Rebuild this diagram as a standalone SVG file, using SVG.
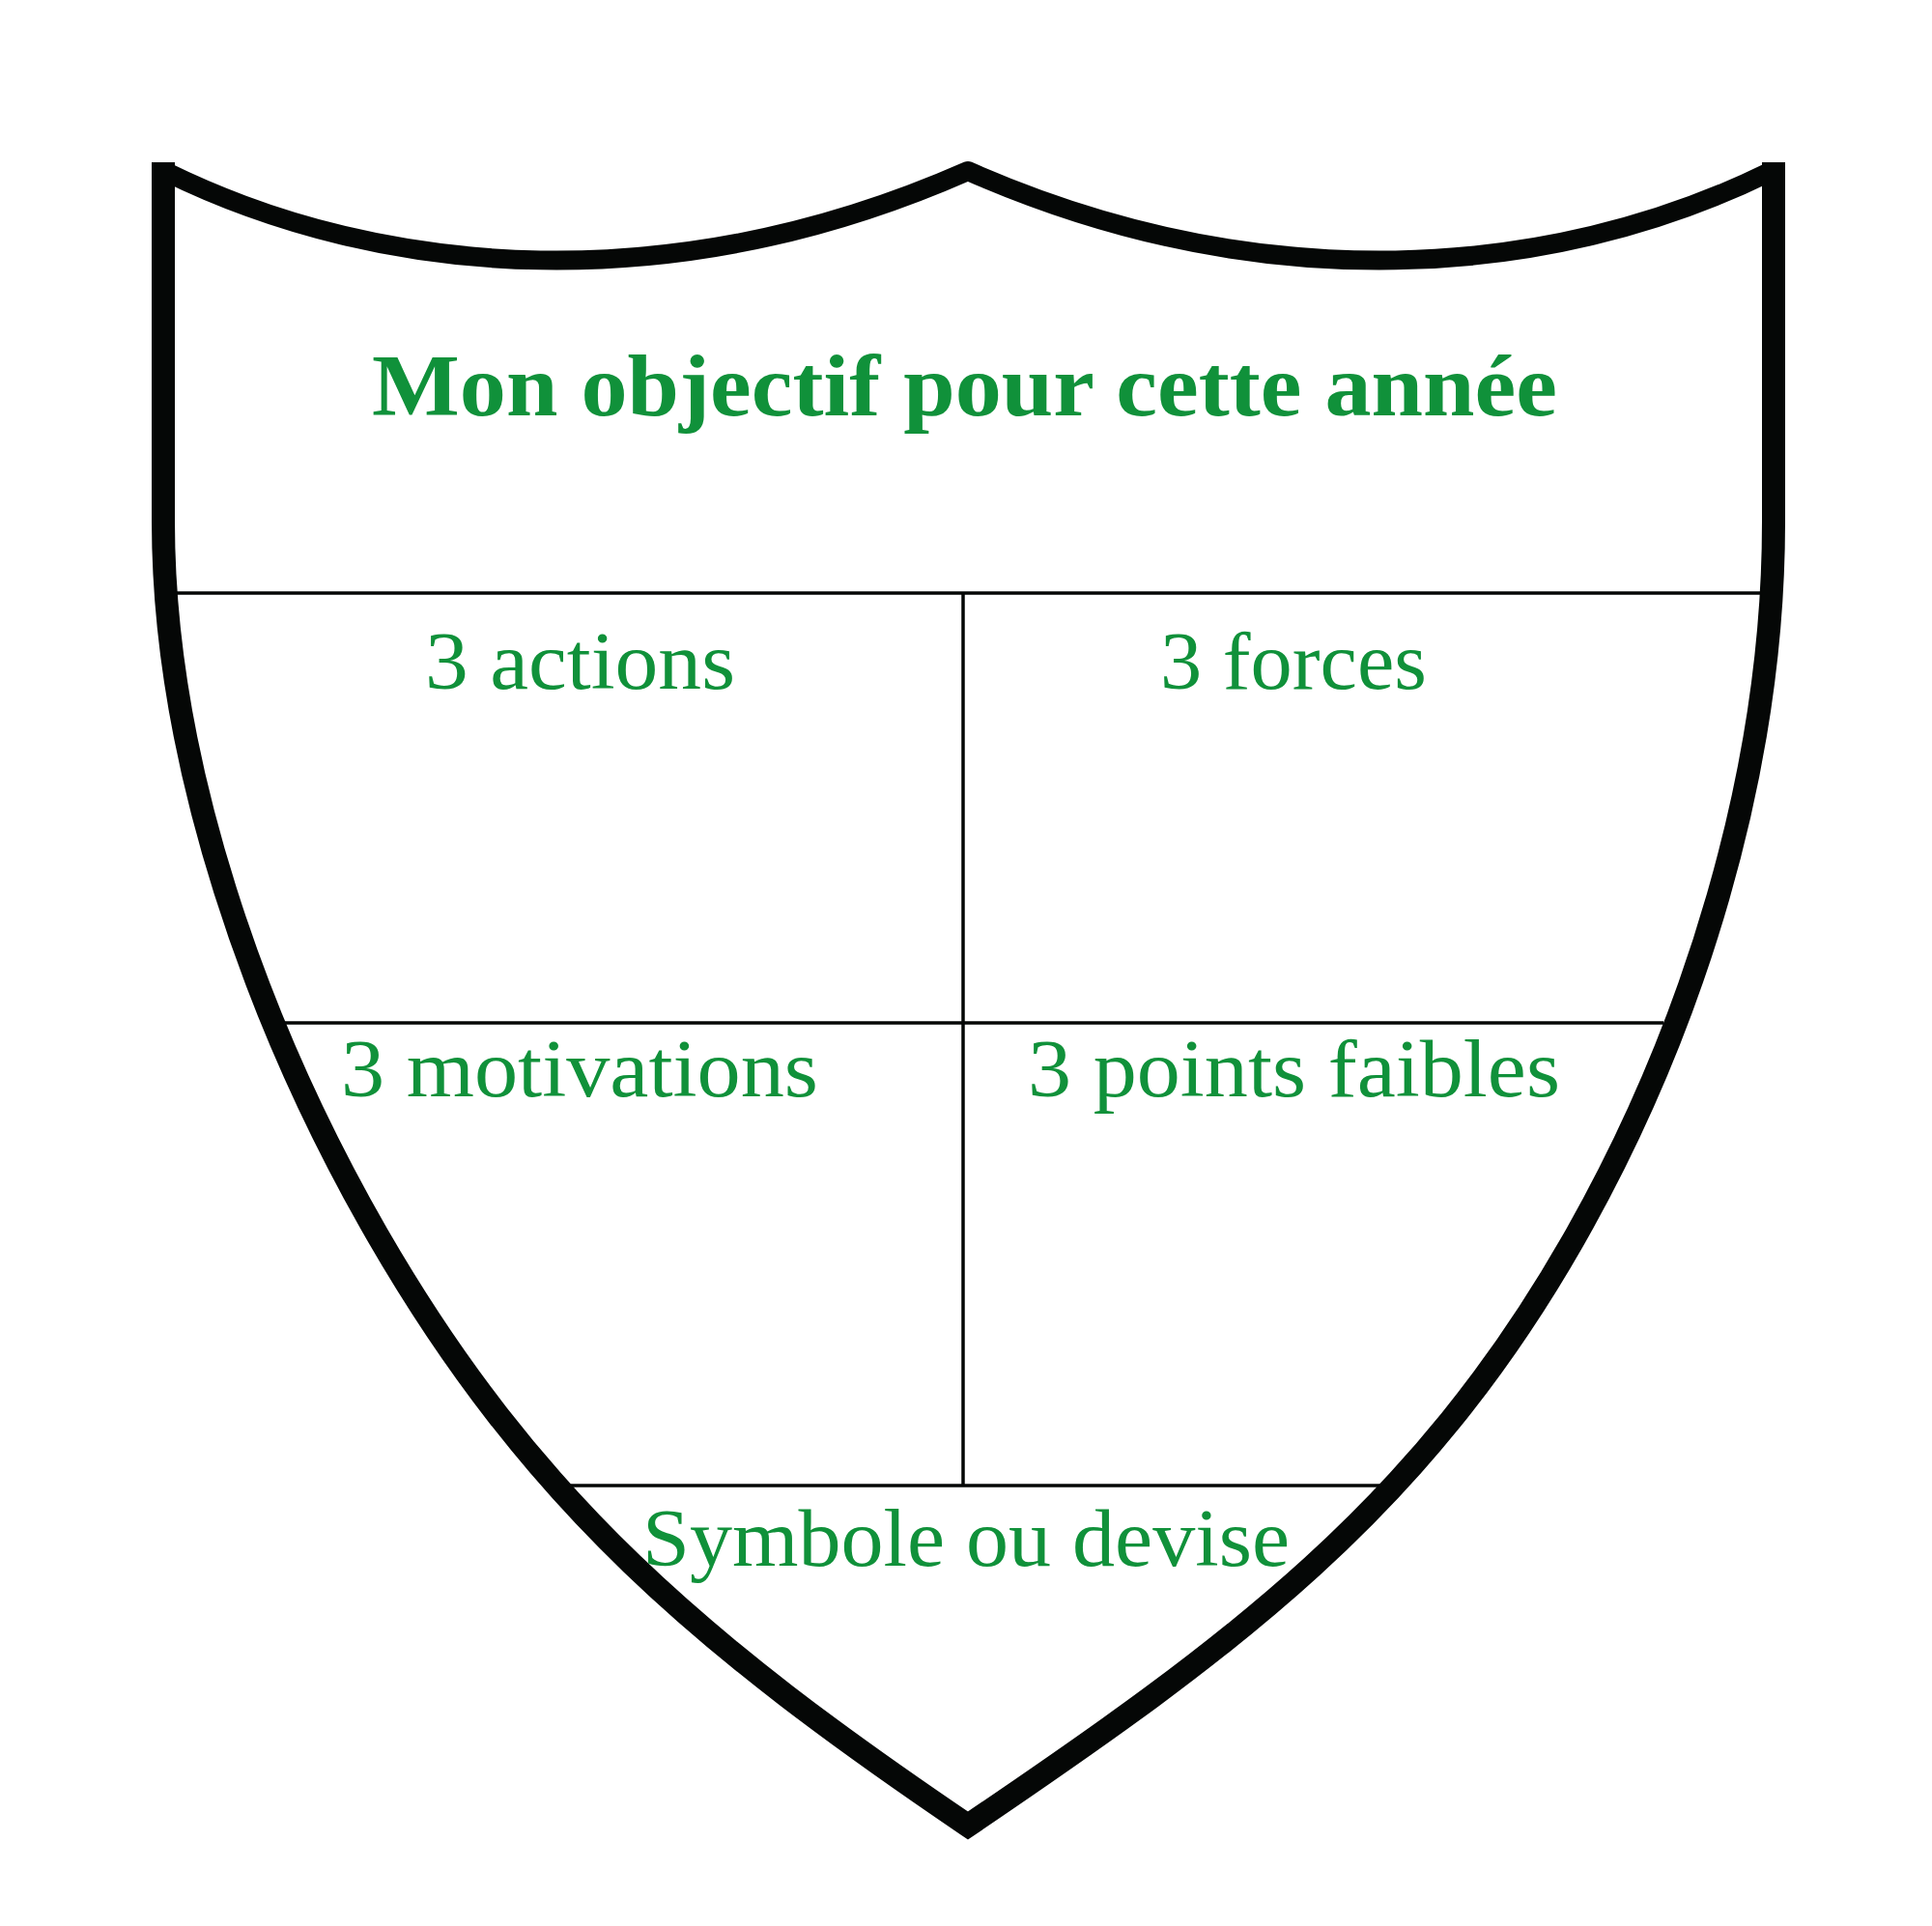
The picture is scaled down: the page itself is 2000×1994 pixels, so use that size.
<svg xmlns="http://www.w3.org/2000/svg" width="2000" height="1994" viewBox="0 0 2000 1994">
  <style>
    .outline { fill: none; stroke: #050706; }
    .divider { fill: none; stroke: #050706; stroke-width: 3.5; stroke-linecap: butt; }
    .lbl { font-family: "Liberation Serif", "Times New Roman", serif; fill: #10913A; font-size: 85px; }
    .title { font-family: "Liberation Serif", "Times New Roman", serif; fill: #10913A; font-size: 90px; font-weight: bold; }
  </style>
  <rect x="0" y="0" width="2000" height="1994" fill="#ffffff"/>

  <g id="connectors">
    <line class="divider" x1="175" y1="614" x2="1828" y2="614"/>
    <line class="divider" x1="997" y1="614" x2="997" y2="1538"/>
    <line class="divider" x1="290" y1="1059" x2="1722" y2="1059"/>
    <line class="divider" x1="580" y1="1538" x2="1436" y2="1538"/>
  </g>

  <g id="shield">
    <path class="outline" stroke-width="20" stroke-linejoin="round" d="M172,178 C400,290 700,310 1002,177 C1304,310 1604,290 1832,178"/>
    <path class="outline" stroke-width="24" stroke-linejoin="miter" stroke-miterlimit="10" d="M169,168 V540 C169,790 266,1062 391,1279 C551,1556 729,1705 1002,1890 C1275,1705 1469,1563 1628,1285 C1752,1068 1836,800 1836,540 V168"/>
  </g>

  <g id="node-objectif">
    <text class="title" x="385" y="430" textLength="1227" lengthAdjust="spacingAndGlyphs">Mon objectif pour cette année</text>
  </g>
  <g id="node-actions">
    <text class="lbl" x="440" y="713" textLength="321" lengthAdjust="spacingAndGlyphs">3 actions</text>
  </g>
  <g id="node-forces">
    <text class="lbl" x="1201" y="713" textLength="276" lengthAdjust="spacingAndGlyphs">3 forces</text>
  </g>
  <g id="node-motivations">
    <text class="lbl" x="353" y="1135" textLength="494" lengthAdjust="spacingAndGlyphs">3 motivations</text>
  </g>
  <g id="node-points-faibles">
    <text class="lbl" x="1064" y="1135" textLength="551" lengthAdjust="spacingAndGlyphs">3 points faibles</text>
  </g>
  <g id="node-symbole">
    <text class="lbl" x="665" y="1621" textLength="670" lengthAdjust="spacingAndGlyphs">Symbole ou devise</text>
  </g>
</svg>
